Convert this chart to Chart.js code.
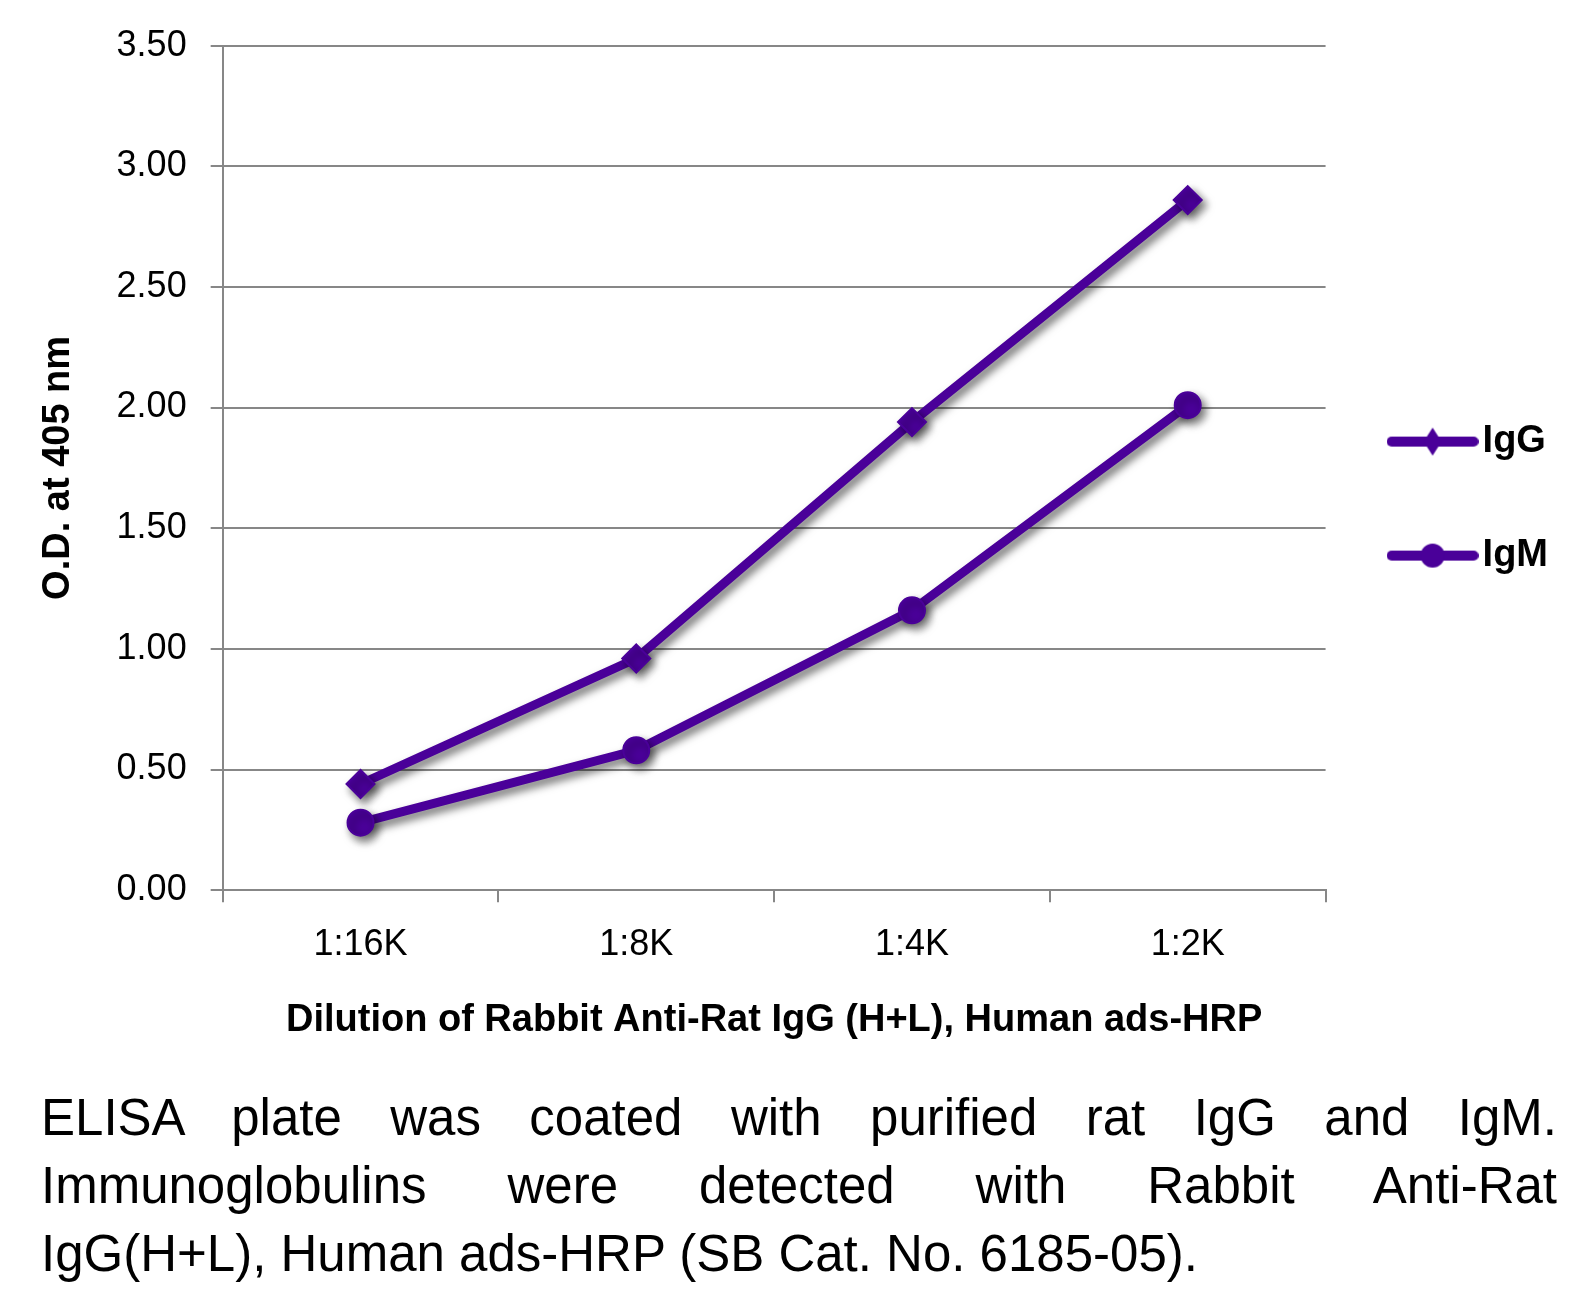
<!DOCTYPE html>
<html>
<head>
<meta charset="utf-8">
<script src="https://cdn.jsdelivr.net/npm/chart.js@4.4.0/dist/chart.umd.min.js"></script>
<style>
  body { margin: 0; background: #fff; width: 1590px; height: 1306px; position: relative; overflow: hidden; }
  #wrap { position: absolute; left: 0; top: 0; width: 1590px; height: 1060px; }
  #caption {
    position: absolute; left: 41px; top: 1084px; width: 1516px;
    font-family: "Liberation Sans", Arial, sans-serif; font-size: 51px; line-height: 68px; color: #000;
  }
  #caption .j { text-align: justify; text-align-last: justify; }
</style>
</head>
<body>
<div id="wrap"><canvas id="elisaChart" width="1590" height="1060"></canvas></div>
<div id="caption">
  <div class="j">ELISA plate was coated with purified rat IgG and IgM.</div>
  <div class="j">Immunoglobulins were detected with Rabbit Anti-Rat</div>
  <div>IgG(H+L), Human ads-HRP (SB Cat. No. 6185-05).</div>
</div>
<script>
// dilutions on the x axis
const dilutions = ['1:16K', '1:8K', '1:4K', '1:2K'];
// O.D. at 405 nm
const iggValues = [0.44, 0.96, 1.94, 2.86];
const igmValues = [0.28, 0.58, 1.16, 2.01];
const yTicks = [0, 0.5, 1, 1.5, 2, 2.5, 3, 3.5];

const purple = '#4A0099';
const fontFamily = '"Liberation Sans", Arial, sans-serif';

// legend swatch: thick line with the marker in the middle
const makeSwatch = (style) => {
  const c = document.createElement('canvas');
  c.width = 92;
  c.height = 32;
  const ctx = c.getContext('2d');
  ctx.strokeStyle = purple;
  ctx.fillStyle = purple;
  ctx.lineWidth = 10;
  ctx.lineCap = 'round';
  ctx.beginPath();
  ctx.moveTo(5, 16);
  ctx.lineTo(87, 16);
  ctx.stroke();
  ctx.beginPath();
  if (style === 'diamond') {
    ctx.moveTo(46, 2);
    ctx.lineTo(55, 16);
    ctx.lineTo(46, 30);
    ctx.lineTo(37, 16);
    ctx.closePath();
  } else {
    ctx.arc(46, 16, 12, 0, Math.PI * 2);
  }
  ctx.fill();
  return c;
};

// Excel-like drop shadow under the series
const shadowPlugin = {
  id: 'shadow',
  beforeDatasetsDraw(chart) {
    const ctx = chart.ctx;
    ctx.save();
    ctx.shadowColor = 'rgba(0, 0, 0, 0.55)';
    ctx.shadowBlur = 9;
    ctx.shadowOffsetX = 4;
    ctx.shadowOffsetY = 5;
  },
  afterDatasetsDraw(chart) {
    chart.ctx.restore();
  }
};

const swatches = { IgG: makeSwatch('diamond'), IgM: makeSwatch('circle') };

new Chart(document.getElementById('elisaChart'), {
  type: 'line',
  data: {
    labels: dilutions,
    datasets: [
      {
        label: 'IgG',
        data: iggValues,
        borderColor: purple,
        backgroundColor: purple,
        borderWidth: 9,
        pointStyle: 'rectRot',
        pointRadius: 14,
        pointBorderWidth: 2,
        tension: 0
      },
      {
        label: 'IgM',
        data: igmValues,
        borderColor: purple,
        backgroundColor: purple,
        borderWidth: 9,
        pointStyle: 'circle',
        pointRadius: 13,
        pointBorderWidth: 2,
        tension: 0
      }
    ]
  },
  options: {
    responsive: false,
    animation: false,
    layout: { padding: { left: 32, right: 32, top: 45, bottom: 17 } },
    scales: {
      x: {
        offset: true,
        grid: { offset: true, drawOnChartArea: false, drawTicks: true, tickLength: 12, color: '#878787', lineWidth: 2 },
        border: { color: '#878787', width: 2 },
        ticks: { color: '#000', padding: 21, font: { family: fontFamily, size: 36 } },
        title: {
          display: true,
          text: 'Dilution of Rabbit Anti-Rat IgG (H+L), Human ads-HRP',
          color: '#000',
          padding: { top: 10, bottom: 0 },
          font: { family: fontFamily, size: 38, weight: 'bold' }
        }
      },
      y: {
        min: 0,
        max: 3.5,
        afterBuildTicks: (axis) => { axis.ticks = yTicks.map(v => ({ value: v })); },
        grid: { color: '#878787', lineWidth: 2, tickLength: 12 },
        border: { color: '#878787', width: 2 },
        ticks: {
          color: '#000',
          padding: 24,
          font: { family: fontFamily, size: 36 },
          callback: (v) => Number(v).toFixed(2)
        },
        title: {
          display: true,
          text: 'O.D. at 405 nm',
          color: '#000',
          padding: { top: 4, bottom: 11 },
          font: { family: fontFamily, size: 38, weight: 'bold' }
        }
      }
    },
    plugins: {
      tooltip: { enabled: false },
      legend: {
        position: 'right',
        fullSize: false,
        title: { display: true, text: '', padding: { top: 0, bottom: 47 } },
        labels: {
          usePointStyle: true,
          pointStyleWidth: 62,
          padding: 76,
          color: '#000',
          font: { family: fontFamily, size: 38, weight: 'bold' },
          generateLabels: (chart) => chart.data.datasets.map((ds, i) => ({
            text: ds.label,
            pointStyle: swatches[ds.label],
            fontColor: '#000',
            lineWidth: 0,
            strokeStyle: 'transparent',
            fillStyle: purple,
            datasetIndex: i
          }))
        }
      }
    }
  },
  plugins: [shadowPlugin]
});
</script>
</body>
</html>
